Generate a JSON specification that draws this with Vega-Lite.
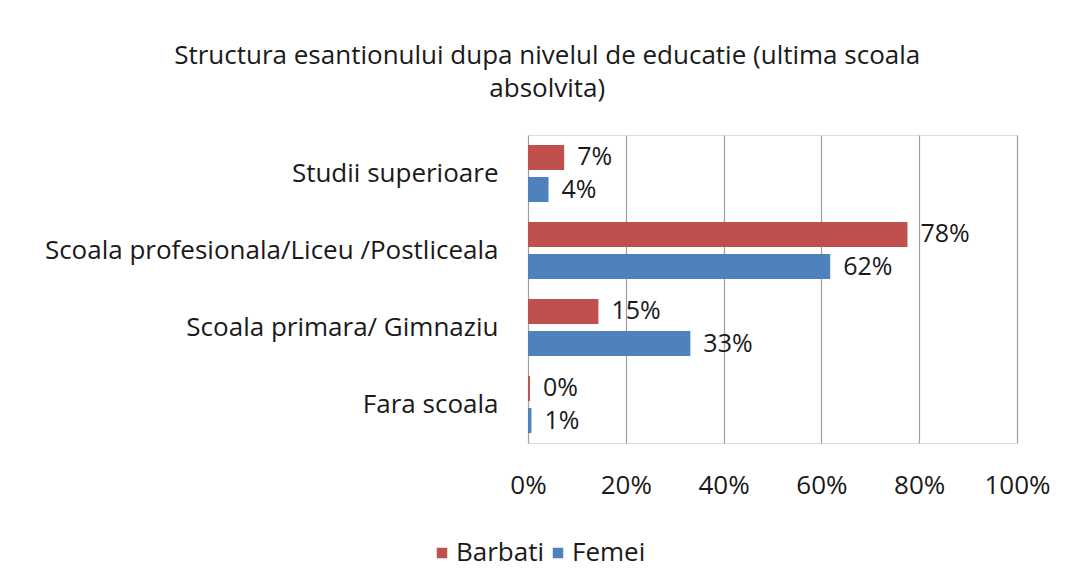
{
  "$schema": "https://vega.github.io/schema/vega-lite/v6.json",
  "width": 489,
  "height": 308,
  "autosize": {"type": "none"},
  "padding": {"left": 528, "top": 135, "right": 57, "bottom": 145},
  "background": "white",
  "title": {
    "text": ["Structura esantionului dupa nivelul de educatie (ultima scoala", "absolvita)"],
    "font": "Open Sans",
    "fontSize": 26,
    "fontWeight": "normal",
    "color": "#1a1a1a",
    "lineHeight": 33,
    "anchor": "middle",
    "frame": "bounds",
    "offset": 33
  },
  "data": {
    "values": [
      {"category": "Studii superioare", "sex": "Barbati", "value": 7.4, "label": "7%"},
      {"category": "Studii superioare", "sex": "Femei", "value": 4.2, "label": "4%"},
      {"category": "Scoala profesionala/Liceu /Postliceala", "sex": "Barbati", "value": 77.6, "label": "78%"},
      {"category": "Scoala profesionala/Liceu /Postliceala", "sex": "Femei", "value": 61.8, "label": "62%"},
      {"category": "Scoala primara/ Gimnaziu", "sex": "Barbati", "value": 14.4, "label": "15%"},
      {"category": "Scoala primara/ Gimnaziu", "sex": "Femei", "value": 33.2, "label": "33%"},
      {"category": "Fara scoala", "sex": "Barbati", "value": 0.4, "label": "0%"},
      {"category": "Fara scoala", "sex": "Femei", "value": 0.7, "label": "1%"}
    ]
  },
  "encoding": {
    "y": {
      "field": "category",
      "type": "nominal",
      "sort": null,
      "scale": {"paddingInner": 0.26, "paddingOuter": 0.13},
      "axis": {
        "title": null,
        "ticks": false,
        "domain": false,
        "labelFont": "Open Sans",
        "labelFontSize": 26,
        "labelColor": "#1a1a1a",
        "labelPadding": 30,
        "labelLimit": 700
      }
    },
    "yOffset": {
      "field": "sex",
      "type": "nominal",
      "sort": ["Barbati", "Femei"],
      "scale": {"paddingInner": 0.22, "paddingOuter": 0}
    },
    "x": {
      "field": "value",
      "type": "quantitative",
      "scale": {"domain": [0, 100], "nice": false},
      "axis": {
        "title": null,
        "values": [0, 20, 40, 60, 80, 100],
        "labelExpr": "datum.value + '%'",
        "labelFlush": false,
        "ticks": false,
        "domain": false,
        "grid": true,
        "gridColor": "#a0a0a0",
        "gridWidth": 1.2,
        "labelFont": "Open Sans",
        "labelFontSize": 26,
        "labelColor": "#1a1a1a",
        "labelPadding": 29
      }
    }
  },
  "layer": [
    {
      "mark": {"type": "bar"},
      "encoding": {
        "color": {
          "field": "sex",
          "type": "nominal",
          "sort": ["Barbati", "Femei"],
          "scale": {"domain": ["Barbati", "Femei"], "range": ["#C0504D", "#4F81BD"]},
          "legend": {
            "title": null,
            "orient": "none",
            "legendX": -99,
            "legendY": 405,
            "direction": "horizontal",
            "symbolType": "square",
            "symbolSize": 110,
            "symbolStrokeWidth": 0,
            "labelFont": "Open Sans",
            "labelFontSize": 26,
            "labelColor": "#1a1a1a",
            "columnPadding": 0,
            "labelOffset": 1
          }
        }
      }
    },
    {
      "mark": {"type": "text", "align": "left", "baseline": "middle", "dx": 13, "font": "Open Sans", "fontSize": 25, "color": "#1a1a1a"},
      "encoding": {
        "text": {"field": "label", "type": "nominal"}
      }
    }
  ]
}
